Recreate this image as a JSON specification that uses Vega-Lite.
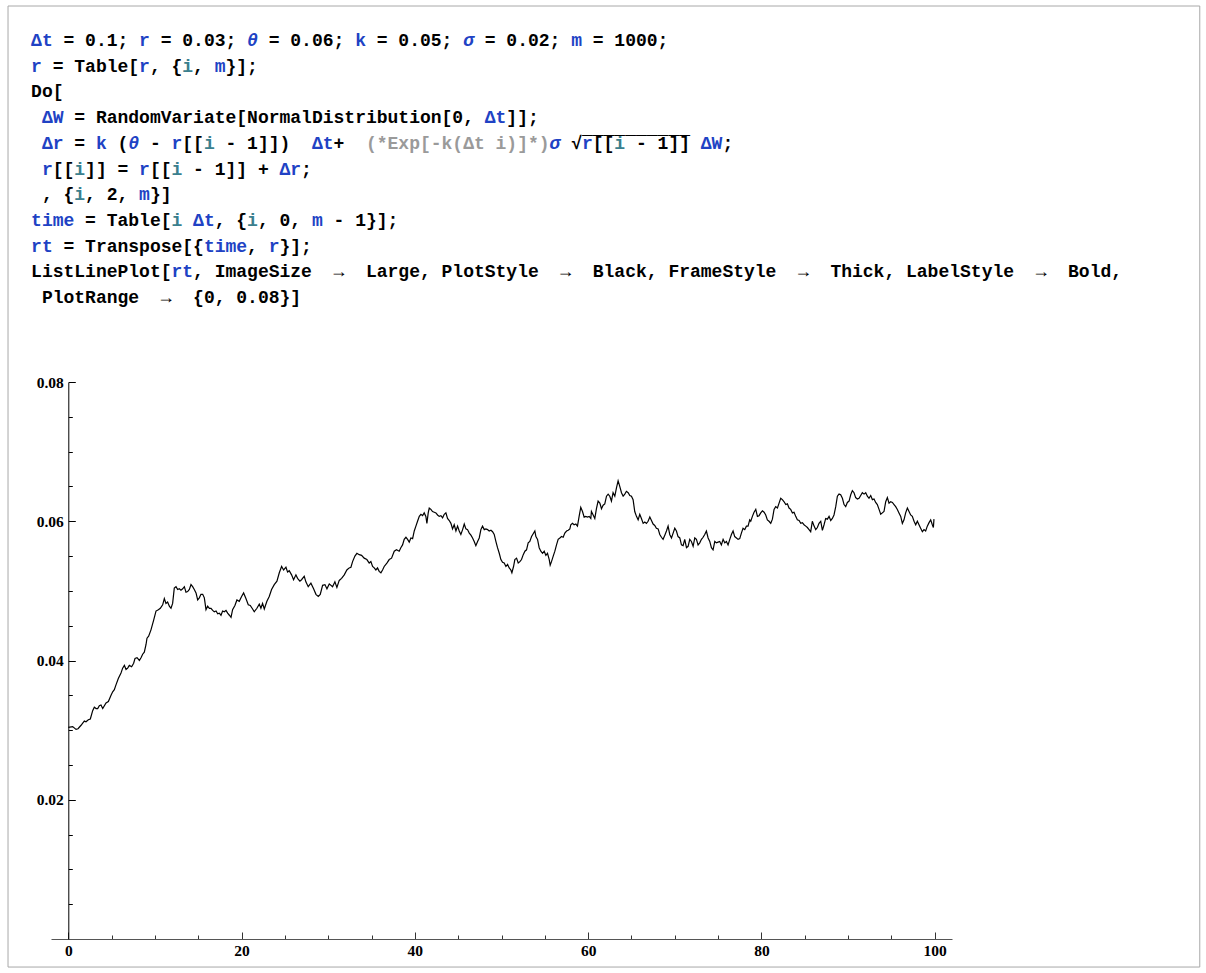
{
  "$schema": "https://vega.github.io/schema/vega-lite/v6.json",
  "background": "white",
  "padding": {"left": 7, "top": 5, "right": 0, "bottom": 0},
  "spacing": 71,
  "bounds": "flush",
  "config": {"view": {"stroke": null}},
  "datasets": {
    "code": [
      {"line": 0, "kind": "u", "text": "Δt\u00a0\u00a0\u00a0\u00a0\u00a0\u00a0\u00a0\u00a0r\u00a0\u00a0\u00a0\u00a0\u00a0\u00a0\u00a0\u00a0\u00a0\u00a0\u00a0\u00a0\u00a0\u00a0\u00a0\u00a0\u00a0\u00a0\u00a0k\u00a0\u00a0\u00a0\u00a0\u00a0\u00a0\u00a0\u00a0\u00a0\u00a0\u00a0\u00a0\u00a0\u00a0\u00a0\u00a0\u00a0\u00a0\u00a0m"},
      {"line": 0, "kind": "i", "text": "\u200b\u00a0\u00a0\u00a0\u00a0\u00a0\u00a0\u00a0\u00a0\u00a0\u00a0\u00a0\u00a0\u00a0\u00a0\u00a0\u00a0\u00a0\u00a0\u00a0\u00a0θ\u00a0\u00a0\u00a0\u00a0\u00a0\u00a0\u00a0\u00a0\u00a0\u00a0\u00a0\u00a0\u00a0\u00a0\u00a0\u00a0\u00a0\u00a0\u00a0σ"},
      {"line": 0, "kind": "b", "text": "\u200b\u00a0\u00a0 = 0.1; \u00a0 = 0.03; \u00a0 = 0.06; \u00a0 = 0.05; \u00a0 = 0.02; \u00a0 = 1000;"},
      {"line": 1, "kind": "u", "text": "r\u00a0\u00a0\u00a0\u00a0\u00a0\u00a0\u00a0\u00a0\u00a0r\u00a0\u00a0\u00a0\u00a0\u00a0\u00a0m"},
      {"line": 1, "kind": "t", "text": "\u200b\u00a0\u00a0\u00a0\u00a0\u00a0\u00a0\u00a0\u00a0\u00a0\u00a0\u00a0\u00a0\u00a0\u00a0i"},
      {"line": 1, "kind": "b", "text": "\u200b\u00a0 = Table[\u00a0, {\u00a0, \u00a0}];"},
      {"line": 2, "kind": "b", "text": "Do["},
      {"line": 3, "kind": "u", "text": "\u200b\u00a0ΔW\u00a0\u00a0\u00a0\u00a0\u00a0\u00a0\u00a0\u00a0\u00a0\u00a0\u00a0\u00a0\u00a0\u00a0\u00a0\u00a0\u00a0\u00a0\u00a0\u00a0\u00a0\u00a0\u00a0\u00a0\u00a0\u00a0\u00a0\u00a0\u00a0\u00a0\u00a0\u00a0\u00a0\u00a0\u00a0\u00a0\u00a0\u00a0\u00a0Δt"},
      {"line": 3, "kind": "b", "text": "\u200b\u00a0\u00a0\u00a0 = RandomVariate[NormalDistribution[0, \u00a0\u00a0]];"},
      {"line": 4, "kind": "u", "text": "\u200b\u00a0Δr\u00a0\u00a0\u00a0k\u00a0\u00a0\u00a0\u00a0\u00a0\u00a0r\u00a0\u00a0\u00a0\u00a0\u00a0\u00a0\u00a0\u00a0\u00a0\u00a0\u00a0\u00a0Δt\u00a0\u00a0\u00a0\u00a0\u00a0\u00a0\u00a0\u00a0\u00a0\u00a0\u00a0\u00a0\u00a0\u00a0\u00a0\u00a0\u00a0\u00a0\u00a0\u00a0\u00a0\u00a0\u00a0r\u00a0\u00a0\u00a0\u00a0\u00a0\u00a0\u00a0\u00a0\u00a0\u00a0ΔW"},
      {"line": 4, "kind": "i", "text": "\u200b\u00a0\u00a0\u00a0\u00a0\u00a0\u00a0\u00a0\u00a0\u00a0θ\u00a0\u00a0\u00a0\u00a0\u00a0\u00a0\u00a0\u00a0\u00a0\u00a0\u00a0\u00a0\u00a0\u00a0\u00a0\u00a0\u00a0\u00a0\u00a0\u00a0\u00a0\u00a0\u00a0\u00a0\u00a0\u00a0\u00a0\u00a0\u00a0\u00a0\u00a0\u00a0\u00a0\u00a0\u00a0\u00a0\u00a0\u00a0σ"},
      {"line": 4, "kind": "t", "text": "\u200b\u00a0\u00a0\u00a0\u00a0\u00a0\u00a0\u00a0\u00a0\u00a0\u00a0\u00a0\u00a0\u00a0\u00a0\u00a0\u00a0i\u00a0\u00a0\u00a0\u00a0\u00a0\u00a0\u00a0\u00a0\u00a0\u00a0\u00a0\u00a0\u00a0\u00a0\u00a0\u00a0\u00a0\u00a0\u00a0\u00a0\u00a0\u00a0\u00a0\u00a0\u00a0\u00a0\u00a0\u00a0\u00a0\u00a0\u00a0\u00a0\u00a0\u00a0\u00a0\u00a0\u00a0i"},
      {"line": 4, "kind": "g", "text": "\u200b\u00a0\u00a0\u00a0\u00a0\u00a0\u00a0\u00a0\u00a0\u00a0\u00a0\u00a0\u00a0\u00a0\u00a0\u00a0\u00a0\u00a0\u00a0\u00a0\u00a0\u00a0\u00a0\u00a0\u00a0\u00a0\u00a0\u00a0\u00a0\u00a0\u00a0\u00a0(*Exp[-k(Δt i)]*)"},
      {"line": 4, "kind": "b", "text": "\u200b\u00a0\u00a0\u00a0 = \u00a0 (\u00a0 - \u00a0[[\u00a0 - 1]])\u00a0\u00a0\u00a0 +"},
      {"line": 4, "kind": "b", "text": "\u200b\u00a0\u00a0\u00a0\u00a0\u00a0\u00a0\u00a0\u00a0\u00a0\u00a0\u00a0\u00a0\u00a0\u00a0\u00a0\u00a0\u00a0\u00a0\u00a0\u00a0\u00a0\u00a0\u00a0\u00a0\u00a0\u00a0\u00a0\u00a0\u00a0\u00a0\u00a0\u00a0\u00a0\u00a0\u00a0\u00a0\u00a0\u00a0\u00a0\u00a0\u00a0\u00a0\u00a0\u00a0\u00a0\u00a0\u00a0\u00a0\u00a0\u00a0√\u00a0[[\u00a0 - 1]]\u00a0\u00a0\u00a0;"},
      {"line": 4, "kind": "b", "text": "\u200b\u00a0\u00a0\u00a0\u00a0\u00a0\u00a0\u00a0\u00a0\u00a0\u00a0\u00a0\u00a0\u00a0\u00a0\u00a0\u00a0\u00a0\u00a0\u00a0\u00a0\u00a0\u00a0\u00a0\u00a0\u00a0\u00a0\u00a0\u00a0\u00a0\u00a0\u00a0\u00a0\u00a0\u00a0\u00a0\u00a0\u00a0\u00a0\u00a0\u00a0\u00a0\u00a0\u00a0\u00a0\u00a0\u00a0\u00a0\u00a0\u00a0\u00a0\u00a0‾‾‾‾‾‾‾‾‾‾"},
      {"line": 5, "kind": "u", "text": "\u200b\u00a0r\u00a0\u00a0\u00a0\u00a0\u00a0\u00a0\u00a0\u00a0r\u00a0\u00a0\u00a0\u00a0\u00a0\u00a0\u00a0\u00a0\u00a0\u00a0\u00a0\u00a0Δr"},
      {"line": 5, "kind": "t", "text": "\u200b\u00a0\u00a0\u00a0\u00a0i\u00a0\u00a0\u00a0\u00a0\u00a0\u00a0\u00a0\u00a0i"},
      {"line": 5, "kind": "b", "text": "\u200b\u00a0\u00a0[[\u00a0]] = \u00a0[[\u00a0 - 1]] + \u00a0\u00a0;"},
      {"line": 6, "kind": "b", "text": "\u200b\u00a0, {\u00a0, 2, \u00a0}]"},
      {"line": 6, "kind": "t", "text": "\u200b\u00a0\u00a0\u00a0\u00a0i"},
      {"line": 6, "kind": "u", "text": "\u200b\u00a0\u00a0\u00a0\u00a0\u00a0\u00a0\u00a0\u00a0\u00a0\u00a0m"},
      {"line": 7, "kind": "u", "text": "time\u00a0\u00a0\u00a0\u00a0\u00a0\u00a0\u00a0\u00a0\u00a0\u00a0\u00a0Δt\u00a0\u00a0\u00a0\u00a0\u00a0\u00a0\u00a0\u00a0\u00a0m"},
      {"line": 7, "kind": "t", "text": "\u200b\u00a0\u00a0\u00a0\u00a0\u00a0\u00a0\u00a0\u00a0\u00a0\u00a0\u00a0\u00a0\u00a0i\u00a0\u00a0\u00a0\u00a0\u00a0\u00a0i"},
      {"line": 7, "kind": "b", "text": "\u200b\u00a0\u00a0\u00a0\u00a0 = Table[\u00a0\u00a0\u00a0\u00a0, {\u00a0, 0, \u00a0 - 1}];"},
      {"line": 8, "kind": "u", "text": "rt\u00a0\u00a0\u00a0\u00a0\u00a0\u00a0\u00a0\u00a0\u00a0\u00a0\u00a0\u00a0\u00a0\u00a0time\u00a0\u00a0r"},
      {"line": 8, "kind": "b", "text": "\u200b\u00a0\u00a0 = Transpose[{\u00a0\u00a0\u00a0\u00a0, \u00a0}];"},
      {"line": 9, "kind": "b", "text": "ListLinePlot[\u00a0\u00a0, ImageSize \u00a0→\u00a0 Large, PlotStyle \u00a0→\u00a0 Black, FrameStyle \u00a0→\u00a0 Thick, LabelStyle \u00a0→\u00a0 Bold,"},
      {"line": 9, "kind": "u", "text": "\u200b\u00a0\u00a0\u00a0\u00a0\u00a0\u00a0\u00a0\u00a0\u00a0\u00a0\u00a0\u00a0\u00a0rt"},
      {"line": 10, "kind": "b", "text": "\u200b\u00a0PlotRange \u00a0→\u00a0 {0, 0.08}]"}
    ],
    "walk": [
      {"t": 0, "r": 0.0304}, {"t": 0.5, "r": 0.0305}, {"t": 0.89, "r": 0.0301}, {"t": 1.12, "r": 0.0302}, {"t": 1.47, "r": 0.0307}, {"t": 1.66, "r": 0.031}, {"t": 1.85, "r": 0.0313}, {"t": 2.04, "r": 0.0312}, {"t": 2.31, "r": 0.0315}, {"t": 2.54, "r": 0.0316}, {"t": 2.81, "r": 0.0328}, {"t": 3.0, "r": 0.0333}, {"t": 3.2, "r": 0.0331}, {"t": 3.39, "r": 0.0331}, {"t": 3.58, "r": 0.0335}, {"t": 3.77, "r": 0.0336}, {"t": 3.97, "r": 0.0331}, {"t": 4.35, "r": 0.0339}, {"t": 4.62, "r": 0.0341}, {"t": 4.93, "r": 0.035}, {"t": 5.12, "r": 0.0355}, {"t": 5.31, "r": 0.0358}, {"t": 5.5, "r": 0.0365}, {"t": 5.77, "r": 0.0374}, {"t": 6.08, "r": 0.0382}, {"t": 6.27, "r": 0.0389}, {"t": 6.47, "r": 0.0393}, {"t": 6.66, "r": 0.0387}, {"t": 6.85, "r": 0.0389}, {"t": 7.04, "r": 0.0393}, {"t": 7.31, "r": 0.0391}, {"t": 7.54, "r": 0.0396}, {"t": 7.7, "r": 0.0403}, {"t": 7.93, "r": 0.0404}, {"t": 8.2, "r": 0.04}, {"t": 8.39, "r": 0.0404}, {"t": 8.58, "r": 0.0409}, {"t": 8.77, "r": 0.0412}, {"t": 8.97, "r": 0.0423}, {"t": 9.08, "r": 0.0432}, {"t": 9.27, "r": 0.0435}, {"t": 9.54, "r": 0.0444}, {"t": 9.85, "r": 0.0458},
      {"t": 10.12, "r": 0.0471}, {"t": 10.39, "r": 0.0473}, {"t": 10.62, "r": 0.0475}, {"t": 10.89, "r": 0.048}, {"t": 11.08, "r": 0.0489}, {"t": 11.27, "r": 0.0482}, {"t": 11.46, "r": 0.0484}, {"t": 11.66, "r": 0.0478}, {"t": 11.85, "r": 0.0475}, {"t": 12.04, "r": 0.0482}, {"t": 12.23, "r": 0.0504}, {"t": 12.43, "r": 0.0506}, {"t": 12.62, "r": 0.0502}, {"t": 12.81, "r": 0.0503}, {"t": 13.0, "r": 0.0501}, {"t": 13.2, "r": 0.0503}, {"t": 13.39, "r": 0.0506}, {"t": 13.58, "r": 0.0498}, {"t": 13.77, "r": 0.0499}, {"t": 13.97, "r": 0.0502}, {"t": 14.16, "r": 0.0509}, {"t": 14.35, "r": 0.0506}, {"t": 14.54, "r": 0.0502}, {"t": 14.74, "r": 0.0497}, {"t": 14.93, "r": 0.0487}, {"t": 15.12, "r": 0.049}, {"t": 15.31, "r": 0.0495}, {"t": 15.51, "r": 0.0495}, {"t": 15.7, "r": 0.049}, {"t": 15.89, "r": 0.0473}, {"t": 16.08, "r": 0.0478}, {"t": 16.28, "r": 0.0475}, {"t": 16.47, "r": 0.0475}, {"t": 16.66, "r": 0.0472}, {"t": 16.85, "r": 0.047}, {"t": 17.05, "r": 0.0471}, {"t": 17.24, "r": 0.0467}, {"t": 17.43, "r": 0.0468}, {"t": 17.62, "r": 0.0465}, {"t": 17.81, "r": 0.0471}, {"t": 18.01, "r": 0.047}, {"t": 18.2, "r": 0.0472}, {"t": 18.39, "r": 0.0468}, {"t": 18.59, "r": 0.0465}, {"t": 18.78, "r": 0.0462},
      {"t": 18.96, "r": 0.0473}, {"t": 19.23, "r": 0.0479}, {"t": 19.46, "r": 0.0487}, {"t": 19.73, "r": 0.0485}, {"t": 20.0, "r": 0.0492}, {"t": 20.23, "r": 0.0497}, {"t": 20.5, "r": 0.0489}, {"t": 20.77, "r": 0.048}, {"t": 21.0, "r": 0.0479}, {"t": 21.27, "r": 0.0474}, {"t": 21.46, "r": 0.047}, {"t": 21.77, "r": 0.0475}, {"t": 22.04, "r": 0.0481}, {"t": 22.23, "r": 0.0475}, {"t": 22.42, "r": 0.0482}, {"t": 22.62, "r": 0.0474}, {"t": 22.92, "r": 0.0485}, {"t": 23.19, "r": 0.0492}, {"t": 23.46, "r": 0.0502}, {"t": 23.77, "r": 0.0509}, {"t": 24.08, "r": 0.0514}, {"t": 24.35, "r": 0.0526}, {"t": 24.62, "r": 0.0535}, {"t": 24.85, "r": 0.053}, {"t": 25.12, "r": 0.0534}, {"t": 25.31, "r": 0.0527}, {"t": 25.5, "r": 0.0529}, {"t": 25.77, "r": 0.0523}, {"t": 26.0, "r": 0.0516}, {"t": 26.27, "r": 0.0523}, {"t": 26.46, "r": 0.0518}, {"t": 26.73, "r": 0.0514}, {"t": 26.92, "r": 0.0516}, {"t": 27.23, "r": 0.0521}, {"t": 27.42, "r": 0.0513}, {"t": 27.69, "r": 0.0506}, {"t": 28.0, "r": 0.0511}, {"t": 28.31, "r": 0.0503}, {"t": 28.58, "r": 0.0495}, {"t": 28.85, "r": 0.0492}, {"t": 29.08, "r": 0.0495}, {"t": 29.35, "r": 0.0508}, {"t": 29.62, "r": 0.0509}, {"t": 29.85, "r": 0.0503}, {"t": 30.12, "r": 0.051}, {"t": 30.5, "r": 0.0506}, {"t": 30.77, "r": 0.0513}, {"t": 31.0, "r": 0.0505}, {"t": 31.27, "r": 0.0515}, {"t": 31.54, "r": 0.0518}, {"t": 31.85, "r": 0.0523}, {"t": 32.15, "r": 0.053}, {"t": 32.42, "r": 0.0533}, {"t": 32.62, "r": 0.0534}, {"t": 32.81, "r": 0.0542}, {"t": 33.08, "r": 0.055}, {"t": 33.31, "r": 0.0554}, {"t": 33.58, "r": 0.0552}, {"t": 33.85, "r": 0.0551}, {"t": 34.15, "r": 0.0547}, {"t": 34.46, "r": 0.0545}, {"t": 34.73, "r": 0.054}, {"t": 34.92, "r": 0.0542}, {"t": 35.12, "r": 0.0535}, {"t": 35.31, "r": 0.0533}, {"t": 35.5, "r": 0.053}, {"t": 35.69, "r": 0.0533}, {"t": 35.88, "r": 0.0528}, {"t": 36.08, "r": 0.0526}, {"t": 36.27, "r": 0.053}, {"t": 36.46, "r": 0.0535}, {"t": 36.77, "r": 0.054}, {"t": 37.04, "r": 0.0545}, {"t": 37.31, "r": 0.0547}, {"t": 37.62, "r": 0.0557}, {"t": 37.88, "r": 0.0559}, {"t": 38.19, "r": 0.0557}, {"t": 38.38, "r": 0.0562},
      {"t": 38.58, "r": 0.0566}, {"t": 38.77, "r": 0.0574}, {"t": 38.97, "r": 0.0577}, {"t": 39.16, "r": 0.0574}, {"t": 39.35, "r": 0.057}, {"t": 39.54, "r": 0.0576}, {"t": 39.74, "r": 0.0575}, {"t": 39.93, "r": 0.0586}, {"t": 40.12, "r": 0.0593}, {"t": 40.31, "r": 0.06}, {"t": 40.51, "r": 0.0607}, {"t": 40.7, "r": 0.061}, {"t": 40.89, "r": 0.0608}, {"t": 41.08, "r": 0.0612}, {"t": 41.27, "r": 0.0607}, {"t": 41.39, "r": 0.0597}, {"t": 41.54, "r": 0.0612}, {"t": 41.66, "r": 0.0619}, {"t": 41.85, "r": 0.0617}, {"t": 42.04, "r": 0.0614}, {"t": 42.24, "r": 0.0613}, {"t": 42.43, "r": 0.0612}, {"t": 42.62, "r": 0.0609}, {"t": 42.81, "r": 0.0607}, {"t": 43.01, "r": 0.0608}, {"t": 43.2, "r": 0.0605}, {"t": 43.39, "r": 0.061}, {"t": 43.58, "r": 0.0612}, {"t": 43.77, "r": 0.0604}, {"t": 43.97, "r": 0.0601}, {"t": 44.16, "r": 0.0597}, {"t": 44.35, "r": 0.0589}, {"t": 44.54, "r": 0.0595}, {"t": 44.74, "r": 0.0586}, {"t": 44.93, "r": 0.0593}, {"t": 45.12, "r": 0.0586}, {"t": 45.31, "r": 0.0581}, {"t": 45.51, "r": 0.0588}, {"t": 45.7, "r": 0.0596}, {"t": 45.89, "r": 0.0589}, {"t": 46.08, "r": 0.0588}, {"t": 46.28, "r": 0.0583}, {"t": 46.47, "r": 0.058}, {"t": 46.66, "r": 0.0576}, {"t": 46.85, "r": 0.0571}, {"t": 47.04, "r": 0.0565}, {"t": 47.24, "r": 0.0571}, {"t": 47.43, "r": 0.0576}, {"t": 47.62, "r": 0.0588}, {"t": 47.81, "r": 0.0593}, {"t": 48.01, "r": 0.0588}, {"t": 48.2, "r": 0.0589}, {"t": 48.39, "r": 0.0588}, {"t": 48.58, "r": 0.0586}, {"t": 48.78, "r": 0.0587}, {"t": 48.97, "r": 0.0585}, {"t": 49.16, "r": 0.0581}, {"t": 49.35, "r": 0.0571}, {"t": 49.54, "r": 0.0562}, {"t": 49.74, "r": 0.0554}, {"t": 49.93, "r": 0.0545}, {"t": 50.12, "r": 0.0541}, {"t": 50.31, "r": 0.054}, {"t": 50.51, "r": 0.0535}, {"t": 50.7, "r": 0.0538}, {"t": 50.89, "r": 0.0533}, {"t": 51.08, "r": 0.053}, {"t": 51.2, "r": 0.0526}, {"t": 51.39, "r": 0.0535}, {"t": 51.54, "r": 0.0545}, {"t": 51.74, "r": 0.0547}, {"t": 51.93, "r": 0.054}, {"t": 52.12, "r": 0.0542}, {"t": 52.31, "r": 0.0545}, {"t": 52.51, "r": 0.0552}, {"t": 52.7, "r": 0.0557}, {"t": 52.89, "r": 0.0559}, {"t": 53.08, "r": 0.0569}, {"t": 53.27, "r": 0.0571}, {"t": 53.47, "r": 0.0578}, {"t": 53.66, "r": 0.0582}, {"t": 53.85, "r": 0.0586}, {"t": 53.97, "r": 0.0578}, {"t": 54.16, "r": 0.0574}, {"t": 54.35, "r": 0.0562}, {"t": 54.54, "r": 0.0557}, {"t": 54.74, "r": 0.0554}, {"t": 54.93, "r": 0.0557}, {"t": 55.12, "r": 0.0551}, {"t": 55.31, "r": 0.0554}, {"t": 55.51, "r": 0.0545}, {"t": 55.62, "r": 0.0537}, {"t": 55.77, "r": 0.0542}, {"t": 55.97, "r": 0.055}, {"t": 56.16, "r": 0.0557}, {"t": 56.35, "r": 0.0566}, {"t": 56.54, "r": 0.0574}, {"t": 56.74, "r": 0.0576}, {"t": 56.93, "r": 0.0578}, {"t": 57.12, "r": 0.0577}, {"t": 57.31, "r": 0.0583}, {"t": 57.51, "r": 0.0586}, {"t": 57.7, "r": 0.0587}, {"t": 57.89, "r": 0.0589},
      {"t": 58.0, "r": 0.0595}, {"t": 58.19, "r": 0.0597}, {"t": 58.38, "r": 0.0595}, {"t": 58.58, "r": 0.0596}, {"t": 58.77, "r": 0.0593}, {"t": 58.96, "r": 0.0607}, {"t": 59.15, "r": 0.062}, {"t": 59.35, "r": 0.0614}, {"t": 59.54, "r": 0.0606}, {"t": 59.73, "r": 0.0607}, {"t": 59.92, "r": 0.0606}, {"t": 60.12, "r": 0.0607}, {"t": 60.31, "r": 0.0604}, {"t": 60.38, "r": 0.0614}, {"t": 60.58, "r": 0.0609}, {"t": 60.77, "r": 0.0604}, {"t": 60.96, "r": 0.0618}, {"t": 61.15, "r": 0.0629}, {"t": 61.35, "r": 0.0626}, {"t": 61.54, "r": 0.0618}, {"t": 61.73, "r": 0.0623}, {"t": 61.92, "r": 0.0625}, {"t": 62.12, "r": 0.0636}, {"t": 62.31, "r": 0.0639}, {"t": 62.5, "r": 0.0636}, {"t": 62.69, "r": 0.0629}, {"t": 62.88, "r": 0.0641}, {"t": 63.08, "r": 0.0636}, {"t": 63.27, "r": 0.0648}, {"t": 63.46, "r": 0.0658}, {"t": 63.65, "r": 0.065}, {"t": 63.85, "r": 0.0641}, {"t": 64.04, "r": 0.0636}, {"t": 64.23, "r": 0.0639}, {"t": 64.42, "r": 0.0643}, {"t": 64.62, "r": 0.0641}, {"t": 64.81, "r": 0.0637}, {"t": 65.0, "r": 0.0636}, {"t": 65.19, "r": 0.0631}, {"t": 65.38, "r": 0.0614}, {"t": 65.58, "r": 0.0607}, {"t": 65.77, "r": 0.0602}, {"t": 65.96, "r": 0.061}, {"t": 66.15, "r": 0.0604}, {"t": 66.35, "r": 0.0597}, {"t": 66.54, "r": 0.0599}, {"t": 66.73, "r": 0.0597}, {"t": 66.92, "r": 0.06}, {"t": 67.12, "r": 0.0606}, {"t": 67.31, "r": 0.0601}, {"t": 67.5, "r": 0.0596}, {"t": 67.69, "r": 0.0594}, {"t": 67.88, "r": 0.059}, {"t": 68.08, "r": 0.0589}, {"t": 68.27, "r": 0.0581}, {"t": 68.46, "r": 0.0577}, {"t": 68.65, "r": 0.0574}, {"t": 68.85, "r": 0.058}, {"t": 69.04, "r": 0.0586}, {"t": 69.23, "r": 0.0593}, {"t": 69.42, "r": 0.0581}, {"t": 69.62, "r": 0.0576}, {"t": 69.81, "r": 0.0583}, {"t": 70.0, "r": 0.059}, {"t": 70.19, "r": 0.0586}, {"t": 70.38, "r": 0.0578}, {"t": 70.58, "r": 0.0576}, {"t": 70.77, "r": 0.0566}, {"t": 70.96, "r": 0.0565}, {"t": 71.15, "r": 0.0574}, {"t": 71.35, "r": 0.0562}, {"t": 71.54, "r": 0.0564}, {"t": 71.73, "r": 0.0574}, {"t": 71.92, "r": 0.0571}, {"t": 72.12, "r": 0.0564}, {"t": 72.31, "r": 0.0576}, {"t": 72.5, "r": 0.0574}, {"t": 72.69, "r": 0.0566}, {"t": 72.88, "r": 0.0569}, {"t": 73.08, "r": 0.0574}, {"t": 73.27, "r": 0.0577}, {"t": 73.46, "r": 0.0581}, {"t": 73.65, "r": 0.0586}, {"t": 73.85, "r": 0.0576}, {"t": 74.04, "r": 0.0571}, {"t": 74.23, "r": 0.0562}, {"t": 74.42, "r": 0.0559}, {"t": 74.62, "r": 0.0571}, {"t": 74.81, "r": 0.0569}, {"t": 75.0, "r": 0.057}, {"t": 75.19, "r": 0.0571}, {"t": 75.38, "r": 0.0566}, {"t": 75.58, "r": 0.0574}, {"t": 75.77, "r": 0.0569}, {"t": 75.96, "r": 0.0571}, {"t": 76.15, "r": 0.0566}, {"t": 76.35, "r": 0.0574}, {"t": 76.54, "r": 0.0581}, {"t": 76.73, "r": 0.0586}, {"t": 76.92, "r": 0.0578}, {"t": 77.12, "r": 0.0576}, {"t": 77.31, "r": 0.0574}, {"t": 77.5, "r": 0.0575}, {"t": 77.69, "r": 0.0583}, {"t": 77.88, "r": 0.059}, {"t": 78.08, "r": 0.0588}, {"t": 78.27, "r": 0.0593}, {"t": 78.46, "r": 0.0593}, {"t": 78.65, "r": 0.0602},
      {"t": 78.77, "r": 0.06}, {"t": 78.96, "r": 0.0607}, {"t": 79.15, "r": 0.0613}, {"t": 79.35, "r": 0.0617}, {"t": 79.54, "r": 0.0607}, {"t": 79.73, "r": 0.0608}, {"t": 79.92, "r": 0.0612}, {"t": 80.12, "r": 0.0615}, {"t": 80.31, "r": 0.0613}, {"t": 80.5, "r": 0.0609}, {"t": 80.69, "r": 0.0602}, {"t": 80.88, "r": 0.06}, {"t": 81.08, "r": 0.0597}, {"t": 81.27, "r": 0.0603}, {"t": 81.46, "r": 0.0617}, {"t": 81.65, "r": 0.0621}, {"t": 81.85, "r": 0.0619}, {"t": 82.04, "r": 0.0626}, {"t": 82.23, "r": 0.0633}, {"t": 82.42, "r": 0.0631}, {"t": 82.62, "r": 0.0628}, {"t": 82.81, "r": 0.0624}, {"t": 83.0, "r": 0.0625}, {"t": 83.19, "r": 0.0619}, {"t": 83.38, "r": 0.0617}, {"t": 83.58, "r": 0.0612}, {"t": 83.77, "r": 0.0613}, {"t": 83.96, "r": 0.0607}, {"t": 84.15, "r": 0.0602}, {"t": 84.35, "r": 0.0601}, {"t": 84.54, "r": 0.0597}, {"t": 84.73, "r": 0.0598}, {"t": 84.92, "r": 0.0595}, {"t": 85.12, "r": 0.0593}, {"t": 85.31, "r": 0.0591}, {"t": 85.5, "r": 0.0588}, {"t": 85.69, "r": 0.0585}, {"t": 85.88, "r": 0.06}, {"t": 86.08, "r": 0.0593}, {"t": 86.27, "r": 0.0588}, {"t": 86.46, "r": 0.0591}, {"t": 86.65, "r": 0.0597}, {"t": 86.85, "r": 0.06}, {"t": 87.04, "r": 0.0587}, {"t": 87.23, "r": 0.0595}, {"t": 87.42, "r": 0.0604}, {"t": 87.62, "r": 0.0603}, {"t": 87.81, "r": 0.0607}, {"t": 88.0, "r": 0.0601}, {"t": 88.19, "r": 0.0604}, {"t": 88.38, "r": 0.0609}, {"t": 88.58, "r": 0.0621}, {"t": 88.77, "r": 0.0636}, {"t": 88.96, "r": 0.0639}, {"t": 89.15, "r": 0.0638}, {"t": 89.35, "r": 0.0633}, {"t": 89.54, "r": 0.0624}, {"t": 89.73, "r": 0.0621}, {"t": 89.92, "r": 0.0627}, {"t": 90.12, "r": 0.0629}, {"t": 90.31, "r": 0.0638}, {"t": 90.5, "r": 0.0644}, {"t": 90.69, "r": 0.0641}, {"t": 90.88, "r": 0.0634}, {"t": 91.08, "r": 0.0632}, {"t": 91.27, "r": 0.0633}, {"t": 91.46, "r": 0.0637}, {"t": 91.65, "r": 0.0641}, {"t": 91.85, "r": 0.0639}, {"t": 92.04, "r": 0.0641}, {"t": 92.23, "r": 0.0636}, {"t": 92.42, "r": 0.0633}, {"t": 92.62, "r": 0.0637}, {"t": 92.81, "r": 0.0631}, {"t": 93.0, "r": 0.0632}, {"t": 93.19, "r": 0.0627}, {"t": 93.38, "r": 0.0624}, {"t": 93.58, "r": 0.0617}, {"t": 93.77, "r": 0.061}, {"t": 93.96, "r": 0.0612}, {"t": 94.15, "r": 0.0614}, {"t": 94.35, "r": 0.0628}, {"t": 94.54, "r": 0.0634}, {"t": 94.73, "r": 0.0626}, {"t": 94.92, "r": 0.0628}, {"t": 95.12, "r": 0.0627}, {"t": 95.31, "r": 0.0624}, {"t": 95.5, "r": 0.0621}, {"t": 95.69, "r": 0.0617}, {"t": 95.88, "r": 0.0612}, {"t": 96.08, "r": 0.0607}, {"t": 96.27, "r": 0.0597}, {"t": 96.46, "r": 0.0602}, {"t": 96.65, "r": 0.0612}, {"t": 96.85, "r": 0.0619}, {"t": 97.04, "r": 0.0614}, {"t": 97.23, "r": 0.0609}, {"t": 97.42, "r": 0.0607}, {"t": 97.62, "r": 0.06}, {"t": 97.81, "r": 0.0595}, {"t": 98.0, "r": 0.06}, {"t": 98.19, "r": 0.0595}, {"t": 98.38, "r": 0.059}, {"t": 98.58, "r": 0.0585}, {"t": 98.77, "r": 0.0588}, {"t": 98.96, "r": 0.0586}, {"t": 99.15, "r": 0.0593}, {"t": 99.35, "r": 0.0598}, {"t": 99.54, "r": 0.0602}, {"t": 99.73, "r": 0.0595}, {"t": 99.85, "r": 0.0591}, {"t": 99.92, "r": 0.0603}
    ]
  },
  "vconcat": [
    {
      "width": 901,
      "height": 283,
      "layer": [
        {
          "data": {"values": [{}]},
          "mark": {"type": "rect", "filled": false, "color": "#a8a8a8", "strokeWidth": 1},
          "encoding": {
            "x": {"datum": -6.96, "type": "quantitative", "scale": {"domain": [-2, 102], "nice": false, "zero": false}, "axis": null},
            "x2": {"datum": 130.6},
            "y": {"datum": -1.355, "type": "quantitative", "scale": {"domain": [-0.5, 10.5], "reverse": true, "nice": false, "zero": false}, "axis": null},
            "y2": {"datum": 36.0}
          }
        },
        {
          "data": {"name": "code"},
          "transform": [{"filter": "datum.kind != 'i'"}],
          "mark": {"type": "text", "font": "Liberation Mono", "fontWeight": "bold", "fontSize": 18, "align": "left", "baseline": "middle"},
          "encoding": {
            "x": {"datum": -4.3, "type": "quantitative"},
            "y": {"field": "line", "type": "quantitative"},
            "text": {"field": "text"},
            "color": {"field": "kind", "type": "nominal", "scale": {"domain": ["b", "u", "t", "g", "i"], "range": ["#000000", "#2042c4", "#3b7f8e", "#9a9a9a", "#2042c4"]}, "legend": null}
          }
        },
        {
          "data": {"name": "code"},
          "transform": [{"filter": "datum.kind == 'i'"}],
          "mark": {"type": "text", "font": "Liberation Mono", "fontWeight": "bold", "fontStyle": "italic", "fontSize": 18, "align": "left", "baseline": "middle"},
          "encoding": {
            "x": {"datum": -4.3, "type": "quantitative"},
            "y": {"field": "line", "type": "quantitative"},
            "text": {"field": "text"},
            "color": {"field": "kind", "type": "nominal", "legend": null}
          }
        }
      ]
    },
    {
      "width": 901,
      "height": 557,
      "data": {"name": "walk"},
      "mark": {"type": "line", "color": "black", "strokeWidth": 1.2},
      "encoding": {
        "x": {
          "field": "t", "type": "quantitative",
          "scale": {"domain": [-2, 102], "nice": false, "zero": false},
          "axis": {
            "title": null, "grid": false,
            "values": [0, 5, 10, 15, 20, 25, 30, 35, 40, 45, 50, 55, 60, 65, 70, 75, 80, 85, 90, 95, 100],
            "labelExpr": "datum.value % 20 == 0 ? datum.label : ''",
            "format": "d",
            "domainColor": "#555555", "domainWidth": 1,
            "tickColor": "#333333", "tickWidth": 1,
            "tickSize": {"condition": {"test": "datum.value % 20 == 0", "value": -7}, "value": -4},
            "labelFont": "Liberation Serif", "labelFontWeight": "bold", "labelFontSize": 15.5, "labelColor": "black",
            "labelPadding": 11, "labelFlush": false, "labelOverlap": false
          }
        },
        "y": {
          "field": "r", "type": "quantitative",
          "scale": {"domain": [0, 0.08], "nice": false, "zero": false},
          "axis": {
            "title": null, "grid": false, "offset": -17.3,
            "values": [0.005, 0.01, 0.015, 0.02, 0.025, 0.03, 0.035, 0.04, 0.045, 0.05, 0.055, 0.06, 0.065, 0.07, 0.075, 0.08],
            "labelExpr": "abs(datum.value * 50 - round(datum.value * 50)) < 0.001 ? format(datum.value, '.2f') : ''",
            "domainColor": "black", "domainWidth": 1,
            "tickColor": "black", "tickWidth": 1,
            "tickSize": {"condition": {"test": "abs(datum.value * 50 - round(datum.value * 50)) < 0.001", "value": -7}, "value": -4},
            "labelFont": "Liberation Serif", "labelFontWeight": "bold", "labelFontSize": 15.5, "labelColor": "black",
            "labelPadding": 12, "labelFlush": false, "labelOverlap": false
          }
        }
      }
    }
  ]
}
